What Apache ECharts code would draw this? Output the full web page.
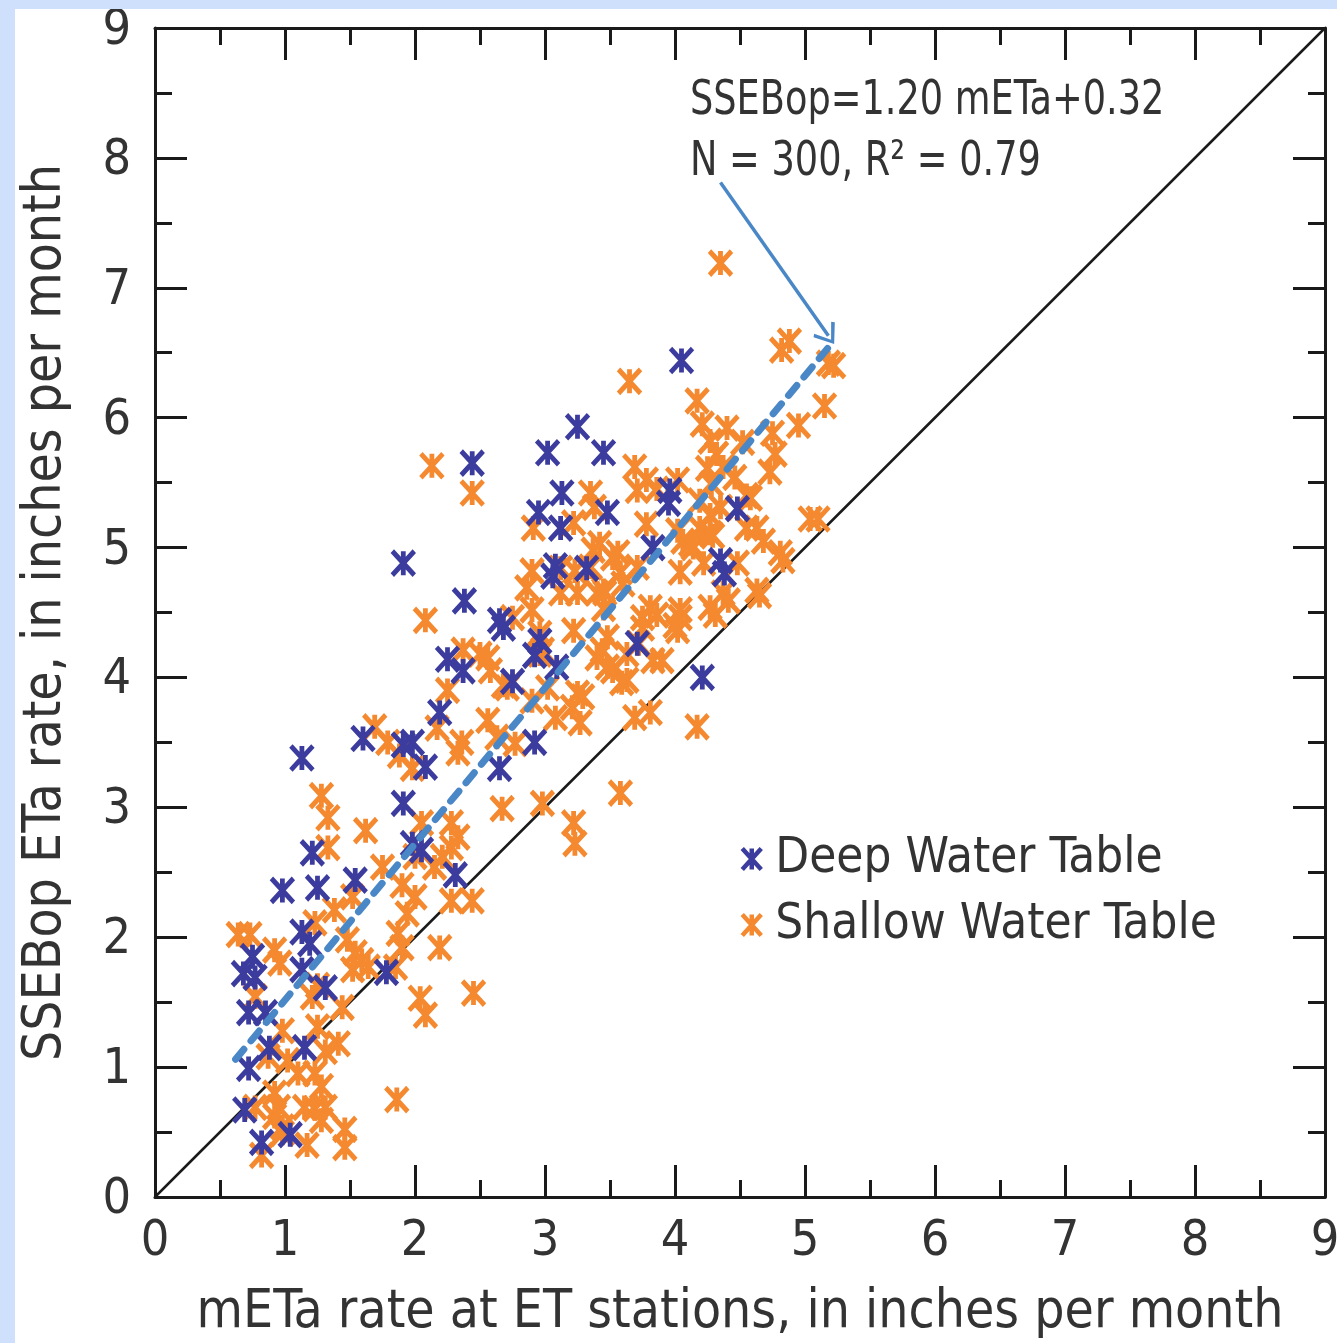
<!DOCTYPE html>
<html>
<head>
<meta charset="utf-8">
<script src="https://cdn.jsdelivr.net/npm/echarts@6/dist/echarts.min.js"></script>
<style>
  html, body { margin: 0; padding: 0; background: #cfe0fd; overflow: hidden; }
  #chart { position: absolute; left: 15px; top: 9px; width: 1322px; height: 1334px; background: #fff; }
</style>
</head>
<body>
<div id="chart"></div>
<script>
var FONT = '"DejaVu Sans Condensed", "Liberation Sans Narrow", "Roboto", sans-serif';
var INK = '#1a1a1a';
var TXT = '#333333';

var axisTicks = [0, 1, 2, 3, 4, 5, 6, 7, 8, 9];

var deepWater = [
  [4.05, 6.44], [3.25, 5.93], [3.02, 5.73], [3.45, 5.73], [2.44, 5.65], [3.13, 5.42],
  [2.95, 5.27], [3.48, 5.27], [3.12, 5.15], [3.96, 5.44], [3.95, 5.34], [4.48, 5.30],
  [1.91, 4.88], [3.08, 4.86], [3.06, 4.78], [3.32, 4.84], [3.83, 5.00], [4.38, 4.80],
  [4.35, 4.90], [2.38, 4.59], [2.68, 4.38], [2.65, 4.44], [2.25, 4.14], [2.37, 4.05],
  [2.75, 3.97], [2.92, 4.17], [2.96, 4.28], [3.71, 4.26], [3.09, 4.08], [2.19, 3.73],
  [1.60, 3.53], [1.98, 3.50], [1.91, 3.48], [2.08, 3.31], [1.13, 3.38], [2.92, 3.50],
  [2.65, 3.30], [4.21, 4.00], [1.91, 3.03], [2.05, 2.67], [1.98, 2.72], [2.31, 2.48],
  [1.21, 2.65], [1.25, 2.38], [1.54, 2.44], [0.98, 2.36], [1.13, 2.04], [1.19, 1.95],
  [0.75, 1.85], [0.68, 1.72], [0.77, 1.69], [1.13, 1.75], [1.31, 1.61], [1.78, 1.73],
  [0.72, 1.42], [0.85, 1.42], [1.15, 1.15], [0.88, 1.15], [0.72, 0.99], [0.69, 0.67],
  [0.82, 0.42], [1.04, 0.48]
];

var shallowWater = [
  [4.35, 7.19], [4.88, 6.59], [4.82, 6.52], [5.22, 6.40], [5.18, 6.42], [3.65, 6.28],
  [4.17, 6.13], [5.15, 6.09], [4.21, 5.95], [4.95, 5.94], [4.40, 5.92], [4.27, 5.82],
  [4.75, 5.88], [4.32, 5.72], [4.77, 5.72], [4.73, 5.58], [3.69, 5.62], [4.25, 5.61],
  [4.46, 5.54], [3.78, 5.52], [3.71, 5.44], [3.35, 5.42], [3.86, 5.45], [4.02, 5.52],
  [4.28, 5.49], [4.55, 5.40], [3.38, 5.31], [5.04, 5.22], [5.10, 5.22], [3.22, 5.19],
  [3.78, 5.18], [4.19, 5.36], [4.35, 5.31], [4.19, 5.15], [4.55, 5.15], [3.42, 5.03],
  [4.68, 5.05], [4.29, 5.09], [4.06, 5.05], [3.56, 4.96], [4.14, 5.00], [4.81, 4.96],
  [4.52, 5.81], [4.37, 5.62], [4.58, 5.38], [4.27, 5.25], [4.63, 5.15], [4.27, 5.11],
  [4.02, 5.13], [3.37, 4.98], [4.12, 5.03], [4.22, 4.88], [3.35, 4.85], [3.58, 4.81],
  [4.04, 4.81], [4.48, 4.88], [3.23, 4.82], [3.45, 4.67], [3.60, 4.72], [4.63, 4.67],
  [4.37, 4.65], [4.27, 4.54], [4.04, 4.52], [3.81, 4.54], [3.45, 4.53], [3.25, 4.65],
  [4.83, 4.90], [4.65, 4.63], [2.13, 5.63], [2.44, 5.42], [2.91, 5.15], [2.90, 4.82],
  [3.12, 4.84], [3.52, 4.92], [3.71, 4.85], [2.86, 4.69], [3.12, 4.65], [3.40, 4.65],
  [2.90, 4.52], [2.75, 4.46], [2.08, 4.44], [3.75, 4.46], [3.86, 4.48], [4.04, 4.46],
  [2.96, 4.34], [3.22, 4.36], [3.48, 4.31], [4.02, 4.36], [2.37, 4.21], [2.50, 4.18],
  [2.96, 4.18], [3.40, 4.15], [3.63, 4.18], [3.83, 4.13], [2.58, 4.05], [2.25, 3.90],
  [3.25, 3.88], [3.52, 4.05], [3.63, 3.98], [2.71, 3.92], [2.56, 4.15], [2.68, 3.94],
  [1.69, 3.62], [1.79, 3.50], [1.88, 3.40], [1.98, 3.30], [2.17, 3.61], [2.36, 3.50],
  [2.33, 3.42], [2.56, 3.67], [2.63, 3.54], [2.77, 3.49], [1.28, 3.09], [1.33, 2.92],
  [1.62, 2.82], [1.33, 2.69], [2.05, 2.88], [2.28, 2.88], [2.33, 2.77], [2.28, 2.69],
  [2.67, 2.99], [2.00, 2.62], [2.21, 2.62], [1.75, 2.54], [2.15, 2.54], [1.52, 2.31],
  [1.90, 2.40], [2.00, 2.31], [2.28, 2.28], [2.44, 2.28], [1.38, 2.21], [1.94, 2.18],
  [0.64, 2.02], [0.73, 2.02], [1.23, 2.11], [0.92, 1.90], [0.96, 1.80], [1.48, 1.98],
  [1.54, 1.88], [1.59, 1.82], [1.87, 2.03], [1.90, 1.92], [2.19, 1.92], [1.52, 1.75],
  [1.64, 1.77], [1.85, 1.77], [1.25, 1.63], [1.21, 1.54], [0.77, 1.54], [1.44, 1.46],
  [2.04, 1.53], [2.08, 1.40], [2.45, 1.57], [0.98, 1.28], [1.25, 1.31], [1.41, 1.18],
  [0.87, 1.08], [1.02, 1.05], [1.31, 1.12], [1.10, 0.95], [1.23, 0.95], [1.28, 0.85],
  [0.92, 0.80], [0.77, 0.69], [0.95, 0.69], [0.92, 0.62], [0.98, 0.54], [1.15, 0.69],
  [1.23, 0.68], [1.31, 0.69], [1.28, 0.59], [1.86, 0.75], [1.46, 0.52], [1.46, 0.38],
  [1.17, 0.40], [0.82, 0.32], [0.98, 0.49], [4.41, 4.59], [4.31, 4.48], [4.00, 4.40],
  [3.75, 4.38], [3.72, 4.26], [3.90, 4.13], [3.44, 4.21], [3.48, 4.08], [3.59, 3.96],
  [2.98, 4.21], [3.29, 3.85], [3.21, 3.77], [3.08, 3.69], [3.27, 3.65], [3.69, 3.69],
  [3.81, 3.73], [4.17, 3.62], [3.58, 3.11], [2.98, 3.03], [3.22, 2.88], [3.23, 2.72],
  [2.90, 3.82], [3.46, 4.65], [3.02, 3.92]
];

var oneToOne = [[0, 0], [9, 9]];
var fitLine = [[0.62, 1.06], [5.18, 6.54]];
var arrowFrom = [4.35, 7.81];
var arrowTo = [5.18, 6.63];

var STAR = 'path://M0,0L20,22M20,0L0,22M10,0L10,22';
var CHEVRON = 'path://M10,0L20,13L18,15L10,4L2,15L0,13Z';

var chartDom = document.getElementById('chart');
var myChart = echarts.init(chartDom);
var option;

function makeAxis(pos, showLabel, name, nameGap) {
  return {
    type: 'value',
    position: pos,
    min: 0,
    max: 9,
    interval: 1,
    name: name,
    nameLocation: 'middle',
    nameGap: nameGap,
    nameTextStyle: { fontFamily: FONT, fontSize: 53, color: TXT },
    axisLine: { onZero: false, lineStyle: { color: INK, width: 3 } },
    axisTick: { inside: true, length: 32, lineStyle: { color: INK, width: 3 } },
    minorTick: { show: true, splitNumber: 2, length: 17, lineStyle: { color: INK, width: 3 } },
    splitLine: { show: false },
    axisLabel: {
      show: showLabel,
      fontFamily: FONT,
      fontSize: 50,
      color: TXT,
      margin: pos === 'left' ? 24 : 20,
      verticalAlign: pos === 'left' ? 'top' : null,
      lineHeight: pos === 'left' ? 6 : null,
      showMinLabel: true,
      showMaxLabel: true,
      formatter: function (v) { return axisTicks.indexOf(v) >= 0 ? String(v) : ''; }
    }
  };
}

option = {
  animation: false,
  grid: { left: 140, top: 19, right: 12, bottom: 146, containLabel: false, outerBoundsMode: 'none' },
  xAxis: [
    makeAxis('bottom', true, 'mETa rate at ET stations, in inches per month', 90),
    makeAxis('top', false, '', 0)
  ],
  yAxis: [
    makeAxis('left', true, 'SSEBop ETa rate, in inches per month', 82),
    makeAxis('right', false, '', 0)
  ],
  legend: {
    orient: 'vertical',
    left: 720,
    top: 817,
    itemWidth: 19,
    itemHeight: 21,
    itemGap: 10,
    data: ['Deep Water Table', 'Shallow Water Table'],
    itemStyle: { borderWidth: 4.5 },
    textStyle: { fontFamily: FONT, fontSize: 49, color: TXT, lineHeight: 56, padding: [0, 0, 0, 9] }
  },
  graphic: [
    {
      type: 'text', x: 675, y: 69, scaleX: 0.85,
      style: { text: 'SSEBop=1.20 mETa+0.32', font: '48px ' + FONT, fill: TXT }
    },
    {
      type: 'text', x: 675, y: 130, scaleX: 0.85,
      style: { text: 'N = 300, R\u00b2 = 0.79', font: '48px ' + FONT, fill: TXT }
    }
  ],
  series: [
    {
      name: '1:1',
      type: 'line',
      data: oneToOne,
      symbol: 'none',
      z: 1,
      lineStyle: { color: INK, width: 2.5 },
      silent: true
    },
    {
      name: 'Deep Water Table',
      type: 'scatter',
      data: deepWater,
      symbol: STAR,
      symbolSize: [22, 24],
      z: 3,
      itemStyle: { color: '#3b3c9e', borderColor: '#3b3c9e', borderWidth: 5, opacity: 1 }
    },
    {
      name: 'Shallow Water Table',
      type: 'scatter',
      data: shallowWater,
      symbol: STAR,
      symbolSize: [22, 24],
      z: 2,
      itemStyle: { color: '#f5892f', borderColor: '#f5892f', borderWidth: 5, opacity: 1 }
    },
    {
      name: 'fit',
      type: 'line',
      data: fitLine,
      symbol: 'none',
      z: 5,
      lineStyle: { color: '#4a87c6', width: 7, type: [13, 11], cap: 'round' },
      silent: true,
      markLine: {
        silent: true,
        symbol: ['none', CHEVRON],
        symbolSize: [26, 20],
        label: { show: false },
        lineStyle: { color: '#4a87c6', width: 3.5, type: 'solid' },
        data: [[{ coord: arrowFrom }, { coord: arrowTo }]]
      }
    }
  ]
};

option && myChart.setOption(option);
</script>
</body>
</html>
